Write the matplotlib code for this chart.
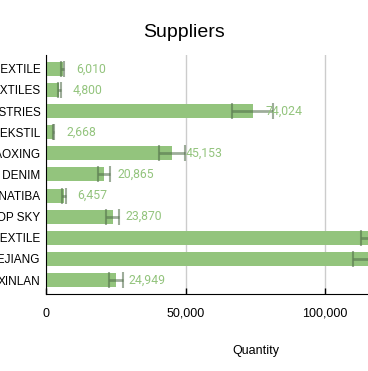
import matplotlib
matplotlib.use("Agg")
import matplotlib.pyplot as plt
from matplotlib.ticker import FuncFormatter

plt.rcParams['font.family'] = ['Liberation Sans', 'DejaVu Sans']

# data (names are clipped at the left edge)
suppliers = ["ORIENT TEXTILE", "LUTHAI TEXTILES", "SHENGHONG INDUSTRIES", "KIPAS TEKSTIL",
             "SHAOXING", "BLACK PEONY DENIM", "CANATIBA", "TOP SKY",
             "HUAFU TEXTILE", "ZHEJIANG", "XINLAN"]
quantity = [6010, 4800, 74024, 2668, 45153, 20865, 6457, 23870, 125400, 122300, 24949]
errors = [601, 480, 7402, 267, 4515, 2087, 646, 2387, 12540, 12230, 2495]
value_labels = ["6,010", "4,800", "74,024", "2,668", "45,153", "20,865", "6,457",
                "23,870", "125,400", "122,300", "24,949"]

bar_color = '#93c47d'
err_color = '#4f6b48'

fig = plt.figure(figsize=(3.68, 3.71), dpi=100)
ax = fig.add_axes([0.125, 0.2075, 0.875, 0.6445])

pos = list(range(len(suppliers)))
ax.barh(pos, quantity, height=0.66, color=bar_color, zorder=2)
ax.errorbar(quantity, pos, xerr=errors, fmt='none', ecolor=err_color, alpha=0.55,
            elinewidth=2, capsize=5.5, capthick=1.5, zorder=3)

for p, q, lab in zip(pos, quantity, value_labels):
    ax.annotate(lab, (q, p), xytext=(9.5, 0), textcoords='offset points',
                va='center', ha='left', color=bar_color, fontsize=8.8,
                family=['Roboto', 'DejaVu Sans'], zorder=4)

ax.set_xlim(0, 115400)
ax.set_ylim(len(suppliers) - 0.34, -0.66)
ax.set_yticks(pos)
ax.set_yticklabels(suppliers, fontsize=8.5)
ax.set_xticks([0, 50000, 100000])
ax.xaxis.set_major_formatter(FuncFormatter(lambda v, _: f"{int(v):,}"))
ax.tick_params(axis='y', length=0, pad=4)
ax.tick_params(axis='x', direction='in', length=4.5, width=1, labelsize=9, pad=10)

ax.grid(axis='x', color='#cccccc', linewidth=1, zorder=0)
ax.set_axisbelow(True)
for s in ['top', 'right']:
    ax.spines[s].set_visible(False)
ax.spines['left'].set_color('black')
ax.spines['bottom'].set_color('black')

ax.set_xlabel("Quantity", fontsize=9)
ax.xaxis.set_label_coords(0.652, -0.213)

fig.suptitle("Suppliers", x=0.5, y=0.912, va='center', fontsize=14)

fig.savefig("out.png", dpi=100)
